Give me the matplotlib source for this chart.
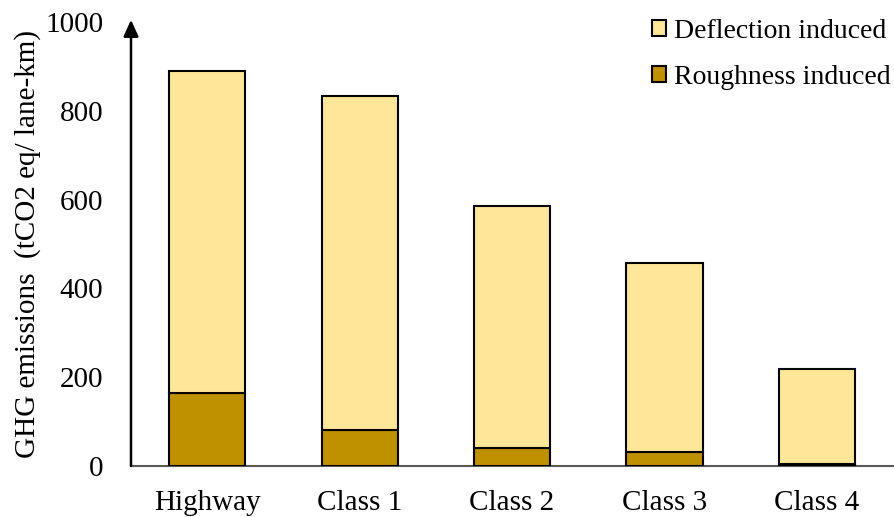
import matplotlib
matplotlib.use("Agg")
import matplotlib.pyplot as plt
import numpy as np

categories = ["Highway", "Class 1", "Class 2", "Class 3", "Class 4"]
roughness = [164, 81, 40, 31, 5]
deflection = [726, 752, 546, 426, 213]
yticks = [0, 200, 400, 600, 800, 1000]

plt.rcParams['font.family'] = ['Liberation Serif', 'DejaVu Serif']
FS = 21

fig = plt.figure(figsize=(8.95, 5.17), dpi=100)
ax = fig.add_axes([131/895, 1-466/517, (893-131)/895, (466-22)/517])

x = np.arange(len(categories))
light = '#FFE699'
dark = '#BF9000'
ax.bar(x, roughness, width=0.5, color=dark, edgecolor='black', linewidth=1.5, label='Roughness induced', zorder=3)
ax.bar(x, deflection, width=0.5, bottom=roughness, color=light, edgecolor='black', linewidth=1.5, label='Deflection induced', zorder=3)

ax.set_xlim(-0.5, 4.5)
ax.set_ylim(0, 1000)
ax.set_yticks(yticks)
ax.set_yticklabels([str(v) for v in yticks])
ax.set_xticks(x)
ax.set_xticklabels(categories)
ax.tick_params(axis='both', length=0, labelsize=FS)
ax.tick_params(axis='y', pad=20)
ax.tick_params(axis='x', pad=17)

for s in ['top', 'right', 'left']:
    ax.spines[s].set_visible(False)
ax.spines['bottom'].set_color('#595959')
ax.spines['bottom'].set_linewidth(1.5)

ax.annotate('', xy=(0, 1.005), xycoords='axes fraction', xytext=(0, 0), textcoords='axes fraction',
            arrowprops=dict(arrowstyle='-|>,head_length=1.0,head_width=0.45', color='black', lw=1.8,
                            shrinkA=0, shrinkB=0), annotation_clip=False)

ax.set_ylabel('GHG emissions  (tCO2 eq/ lane-km)', fontsize=FS, labelpad=3)

handles, labels = ax.get_legend_handles_labels()
leg = fig.legend(handles[::-1], labels[::-1], loc='upper left', bbox_to_anchor=(652/895, 1-19/517),
                 frameon=False, fontsize=20, handlelength=0.5, handleheight=0.5, handletextpad=0.3,
                 labelspacing=0.75, borderpad=0, borderaxespad=0)

fig.savefig('out.png', dpi=100)
